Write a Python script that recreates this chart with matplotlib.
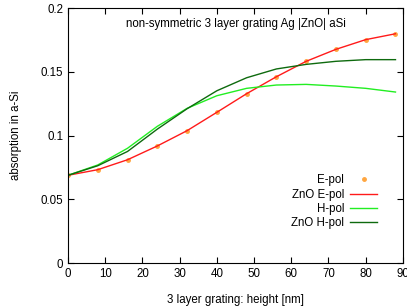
import matplotlib
matplotlib.use('Agg')
import matplotlib.pyplot as plt

plt.rcParams['font.family'] = ['Liberation Sans', 'DejaVu Sans']

height = [0, 8, 16, 24, 32, 40, 48, 56, 64, 72, 80, 88]
e_pol = [0.0688, 0.0732, 0.0810, 0.0918, 0.1038, 0.1182, 0.1328, 0.1461, 0.1582, 0.1676, 0.1752, 0.1798]
zno_e_pol = [0.0688, 0.0732, 0.0810, 0.0918, 0.1038, 0.1182, 0.1328, 0.1461, 0.1582, 0.1676, 0.1752, 0.1798]
h_pol = [0.0688, 0.0769, 0.0900, 0.1072, 0.1213, 0.1312, 0.1370, 0.1396, 0.1401, 0.1388, 0.1370, 0.1341]
zno_h_pol = [0.0688, 0.0763, 0.0875, 0.1050, 0.1210, 0.1351, 0.1453, 0.1522, 0.1558, 0.1582, 0.1595, 0.1595]

xticks = [0, 10, 20, 30, 40, 50, 60, 70, 80, 90]
yticks = [0, 0.05, 0.1, 0.15, 0.2]
ytick_labels = ['0', '0.05', '0.1', '0.15', '0.2']

fs = 8.3

fig = plt.figure(figsize=(4.07, 3.08), dpi=100)
ax = fig.add_axes([0.167, 0.146, 0.823, 0.828])

ax.plot(height, e_pol, 'o', color='#ffa640', markersize=2.5, label='E-pol')
ax.plot(height, zno_e_pol, color='#ff1a1a', linewidth=1.0, label='ZnO E-pol')
ax.plot(height, h_pol, color='#22ee22', linewidth=1.0, label='H-pol')
ax.plot(height, zno_h_pol, color='#0e6a0e', linewidth=1.0, label='ZnO H-pol')

ax.set_xlim(0, 90)
ax.set_ylim(0, 0.2)
ax.set_xticks(xticks)
ax.set_yticks(yticks)
ax.set_yticklabels(ytick_labels)
ax.tick_params(direction='in', top=True, right=True, labelsize=fs, length=4, width=0.8)
ax.set_xlabel('3 layer grating: height [nm]', fontsize=fs, labelpad=10)
ax.set_ylabel('absorption in a-Si', fontsize=fs, labelpad=13)
ax.text(0.5, 0.96, 'non-symmetric 3 layer grating Ag |ZnO| aSi', transform=ax.transAxes,
        ha='center', va='top', fontsize=fs)

leg = ax.legend(loc='center right', bbox_to_anchor=(0.955, 0.24), frameon=False, fontsize=fs,
                markerfirst=False, handlelength=2.4, labelspacing=0.2, handletextpad=0.5,
                numpoints=1)
for t in leg.get_texts():
    t.set_ha('right')

fig.savefig('out.png', dpi=100)
